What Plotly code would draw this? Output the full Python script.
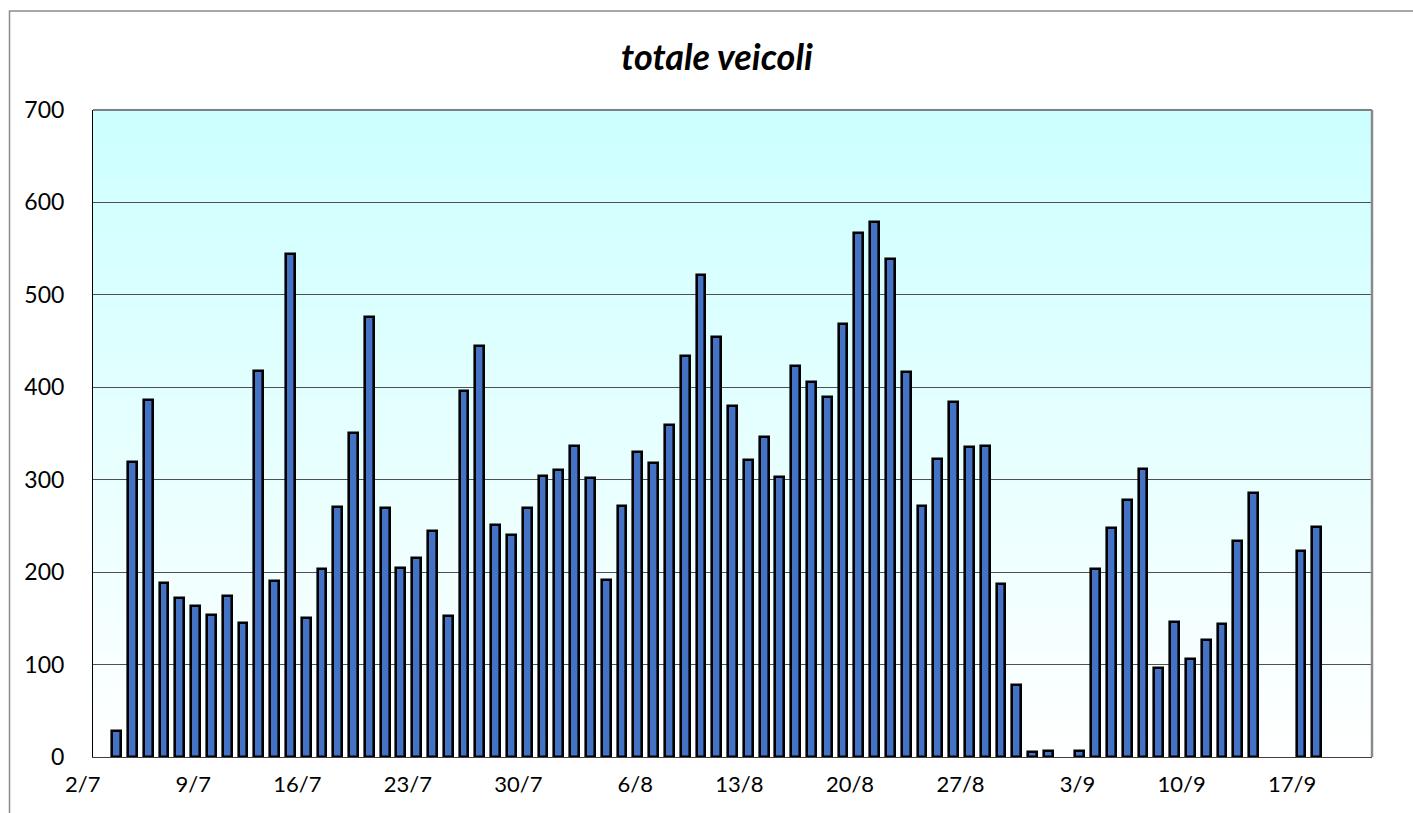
import plotly.graph_objects as go
import pandas as pd

# ---- data ----
first_day = "2009-07-03"
last_day = "2009-09-17"
totale_veicoli = [
    28, 319, 386, 188, 172, 163, 154, 174, 145, 418,
    190, 544, 150, 203, 270, 351, 476, 269, 204, 215,
    245, 153, 396, 445, 251, 240, 269, 304, 310, 336,
    302, 191, 272, 330, 318, 359, 434, 521, 454, 380,
    321, 346, 303, 423, 406, 390, 469, 567, 579, 539,
    417, 272, 322, 384, 335, 336, 187, 78, 5, 6,
    None, 6, 203, 248, 278, 312, 96, 146, 106, 127,
    144, 234, 286, None, None, 223, 249,
]
tick_start = "2009-07-02"
axis_start = "2009-07-01 12:00"
axis_end = "2009-09-20 12:00"
y_ticks = [0, 100, 200, 300, 400, 500, 600, 700]
title_text = "totale veicoli"

days = pd.date_range(first_day, last_day, freq="D")
DAY_MS = 86400000

W, H = 1413, 813
L, R, T, B = 93, 41, 110, 56
plot_w = W - L - R
plot_h = H - T - B

fig = go.Figure(
    go.Bar(
        x=days,
        y=totale_veicoli,
        width=0.56 * DAY_MS,
        marker=dict(color="#4472C4", line=dict(color="black", width=2.6)),
        showlegend=False,
    )
)

shapes = []
# vertical gradient background of the plot area (light cyan top -> white bottom)
N = 140
for i in range(N):
    fm = (i + 0.5) / N
    r = round(255 - 51 * fm)
    shapes.append(dict(
        type="rect", xref="x domain", yref="y domain",
        x0=0, x1=1, y0=i / N, y1=(i + 1) / N + 0.002,
        fillcolor=f"rgb({r},255,255)", line=dict(width=0), layer="below",
    ))
# plot-area frame (top and right gray)
shapes.append(dict(type="line", xref="x domain", yref="y domain",
                   x0=0, x1=1, y0=1, y1=1, line=dict(color="#808080", width=2)))
shapes.append(dict(type="line", xref="x domain", yref="y domain",
                   x0=1, x1=1, y0=0, y1=1, line=dict(color="#8a8a8a", width=2.5)))
# outer chart border (extends beyond the visible window on right/bottom)
shapes.append(dict(type="rect", xref="paper", yref="paper",
                   x0=(9.5 - L) / plot_w, x1=(W + 20 - L) / plot_w,
                   y0=(H - B - (H + 20)) / plot_h, y1=(H - B - 11) / plot_h,
                   line=dict(color="#8c8c8c", width=1.5), fillcolor="rgba(0,0,0,0)",
                   layer="below"))

fig.update_layout(
    width=W, height=H, autosize=False,
    margin=dict(l=L, r=R, t=T, b=B, pad=0),
    paper_bgcolor="white",
    plot_bgcolor="rgba(0,0,0,0)",
    font=dict(family="Lato", color="black", size=22),
    shapes=shapes,
    bargap=0,
    title=dict(
        text=f"<b><i>{title_text}</i></b>",
        font=dict(family="Lato", size=36, color="black"),
        x=717 / W, xref="container", xanchor="center",
        y=1 - 57 / H, yref="container", yanchor="middle",
    ),
    xaxis=dict(
        type="date",
        range=[axis_start, axis_end],
        tick0=tick_start,
        dtick=7 * DAY_MS,
        tickformat="%-d/%-m",
        ticklabelposition="outside left",
        ticks="",
        showgrid=False,
        showline=True, linecolor="#404040", linewidth=1,
        tickfont=dict(family="Lato", size=22, color="black"),
        ticklabelstandoff=8,
        zeroline=False,
        automargin=False,
    ),
    yaxis=dict(
        range=[0, 700],
        tickvals=y_ticks,
        ticks="",
        showgrid=True, gridcolor="#4f4f4f", gridwidth=1,
        showline=True, linecolor="black", linewidth=1,
        tickfont=dict(family="Lato", size=23, color="black"),
        ticklabelstandoff=23,
        zeroline=False,
        automargin=False,
    ),
)

fig.write_html("out.html", config={"displayModeBar": False},
               post_script="document.body.style.margin='0';")
